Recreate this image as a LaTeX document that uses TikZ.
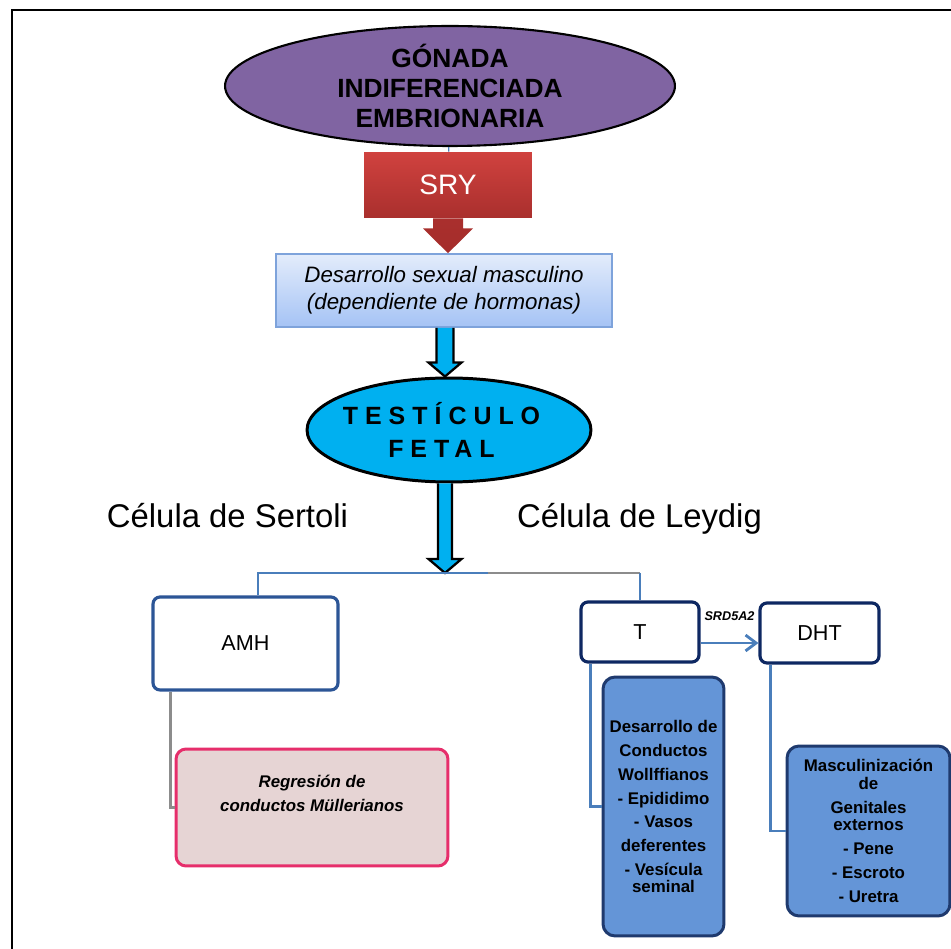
\documentclass[tikz,border=0pt]{standalone}
\usepackage{fontspec}
\setmainfont{Liberation Sans}
\newfontfamily\spacedfont[LetterSpace=28]{Liberation Sans}
\usetikzlibrary{calc,arrows.meta,shapes.geometric}

\definecolor{gonadapurple}{HTML}{8064A2}
\definecolor{sryred}{HTML}{D0423F}
\definecolor{sryreddark}{HTML}{A52D2B}
\definecolor{dsmtop}{HTML}{E3ECFB}
\definecolor{dsmbottom}{HTML}{A5C3F5}
\definecolor{dsmborder}{HTML}{7EA3DB}
\definecolor{fetalcyan}{HTML}{00B0F0}
\definecolor{amhblue}{HTML}{2C5596}
\definecolor{hormnavy}{HTML}{0E2862}
\definecolor{regpink}{HTML}{E6D4D4}
\definecolor{regborder}{HTML}{E62E6B}
\definecolor{ductblue}{HTML}{6495D7}
\definecolor{ductborder}{HTML}{1F3A6E}
\definecolor{linkblue}{HTML}{4A7EBB}
\definecolor{linkgray}{HTML}{8C8C8C}

\begin{document}
\begin{tikzpicture}[x=0.02cm, y=-0.02cm,
  gonada/.style={ellipse, draw=black, line width=1.2pt, fill=gonadapurple,
    minimum width=9cm, minimum height=2.4cm, inner sep=0pt},
  gonadatext/.style={align=center, font=\fontsize{15}{17}\selectfont\bfseries},
  srybox/.style={rectangle, top color=sryred, bottom color=sryreddark!90!sryred,
    minimum width=3.36cm, minimum height=1.32cm, text=white,
    font=\fontsize{16}{18}\selectfont},
  dsmbox/.style={rectangle, draw=dsmborder, line width=0.9pt, top color=dsmtop,
    bottom color=dsmbottom, minimum width=6.72cm, minimum height=1.46cm,
    align=center, font=\fontsize{12.7}{15.3}\selectfont\itshape},
  fetal/.style={ellipse, draw=black, line width=1.7pt, fill=fetalcyan,
    minimum width=5.68cm, minimum height=2.08cm, inner sep=0pt},
  fetaltext/.style={align=center, font=\fontsize{14.2}{18.7}\spacedfont\bfseries},
  celltext/.style={anchor=base, inner sep=0pt, font=\fontsize{18.7}{22}\selectfont},
  fatarrow/.style={fill=fetalcyan, draw=black, line width=1.3pt, line join=miter},
  hormbox/.style={rectangle, rounded corners=0.14cm, draw=#1, line width=1.8pt,
    fill=white, font=\fontsize{12.3}{14}\selectfont},
  regbox/.style={rectangle, rounded corners=0.2cm, draw=regborder, line width=1.7pt,
    fill=regpink, minimum width=5.44cm, minimum height=2.34cm, align=center,
    text depth=0.58cm, font=\fontsize{9.6}{13.6}\selectfont\bfseries\itshape},
  ductbox/.style={rectangle, rounded corners=0.24cm, draw=ductborder, line width=1.7pt,
    fill=ductblue, align=center, inner sep=0pt,
    font=\fontsize{9.6}{13.6}\selectfont\bfseries},
  thinlink/.style={draw=#1, line width=0.7pt},
  thicklink/.style={draw=#1, line width=1.6pt},
  srdlabel/.style={inner sep=0pt, font=\fontsize{7.2}{8}\selectfont\bfseries\itshape}]

\useasboundingbox (0,0) rectangle (951,949);
\draw[line width=1.2pt] (12,960) -- (12,10) -- (960,10);

\node[gonada] (gon) at (450,86) {};
\node[gonadatext] (gontext) at (gon.center) {GÓNADA\\INDIFERENCIADA\\EMBRIONARIA};
\node[srybox] (sry) at (448,185) {SRY};
\node[dsmbox] (dsm) at (444,290.5) {Desarrollo sexual masculino\\(dependiente de hormonas)};
\node[fetal] (tf) at (449,430) {};
\node[fetaltext] (tftext) at ([xshift=-0.15cm]tf.center) {TESTÍCULO\\FETAL};

\node[celltext] (sertoli) at (227.5,528) {Célula de Sertoli};
\node[celltext] (leydig) at (639.5,528) {Célula de Leydig};

\node[hormbox=amhblue, minimum width=3.7cm, minimum height=1.86cm] (amh) at (245.5,643.5) {AMH};
\node[hormbox=hormnavy, minimum width=2.36cm, minimum height=1.2cm] (t) at (640,632) {T};
\node[hormbox=hormnavy, minimum width=2.38cm, minimum height=1.2cm] (dht) at (819.5,633) {DHT};

\node[regbox] (reg) at (312,807.5) {Regresión de\\conductos Müllerianos};
\node[ductbox, minimum width=2.42cm, minimum height=5.18cm] (wolff) at (663.5,806.5)
  {Desarrollo de\\Conductos\\Wollffianos\\- Epididimo\\- Vasos\\deferentes\\- Vesícula\\[-4pt]seminal};
\node[ductbox, minimum width=3.26cm, minimum height=3.4cm] (masc) at (868.5,831)
  {Masculinización\\[-3.4pt]de\\Genitales\\[-4pt]externos\\- Pene\\- Escroto\\- Uretra};

\draw[thinlink=linkblue] (gon) -- (sry);
\shade[top color=sryreddark!90!sryred, bottom color=sryreddark]
  ($(sry.south)+(-15,0)$) |- ($(sry.south)+(-25,10)$) -- (sry.south |- dsm.north)
  -- ($(sry.south)+(25,10)$) -| ($(sry.south)+(15,0)$) -- cycle;

\coordinate (ax) at (445,0);
\coordinate (a1s) at (ax |- dsm.south);
\coordinate (a1e) at (ax |- tf.north);
\coordinate (a2s) at (ax |- tf.south);
\coordinate (split) at (445,573);
\coordinate (bend) at (488,573);
\filldraw[fatarrow] ($(a1s)+(-8.5,0)$) -- ($(a1e)+(-8.5,-14)$) -- ++(-8,0) -- (a1e)
  -- ++(16.5,-14) -- ++(-8,0) -- ($(a1s)+(8.5,0)$);
\filldraw[fatarrow] ($(a2s)+(-7,0)$) -- ($(split)+(-7,-14)$) -- ++(-9.5,0) -- (split)
  -- ++(16.5,-14) -- ++(-9.5,0) -- ($(a2s)+(7,0)$);

\draw[thinlink=linkblue] ([xshift=0.25cm]amh.north) |- (bend);
\draw[thinlink=linkgray] (bend) -- (bend -| t.north);
\draw[thinlink=linkblue] (bend -| t.north) -- (t.north);

\draw[thicklink=linkgray] ([xshift=0.38cm]amh.south west) |- (reg.west);
\draw[thicklink=linkblue] ([xshift=0.22cm]t.south west) |- (wolff.west);
\draw[thicklink=linkblue] ([xshift=0.24cm]dht.south west) |- (masc.west);
\draw[thicklink=linkblue, -{Straight Barb[length=6pt,width=9pt]}]
  ([yshift=-0.22cm]t.east) -- ([yshift=-0.22cm]t.east -| dht.west)
  node[srdlabel, midway, above=0.41cm] (srd) {SRD5A2};
\end{tikzpicture}
\end{document}
